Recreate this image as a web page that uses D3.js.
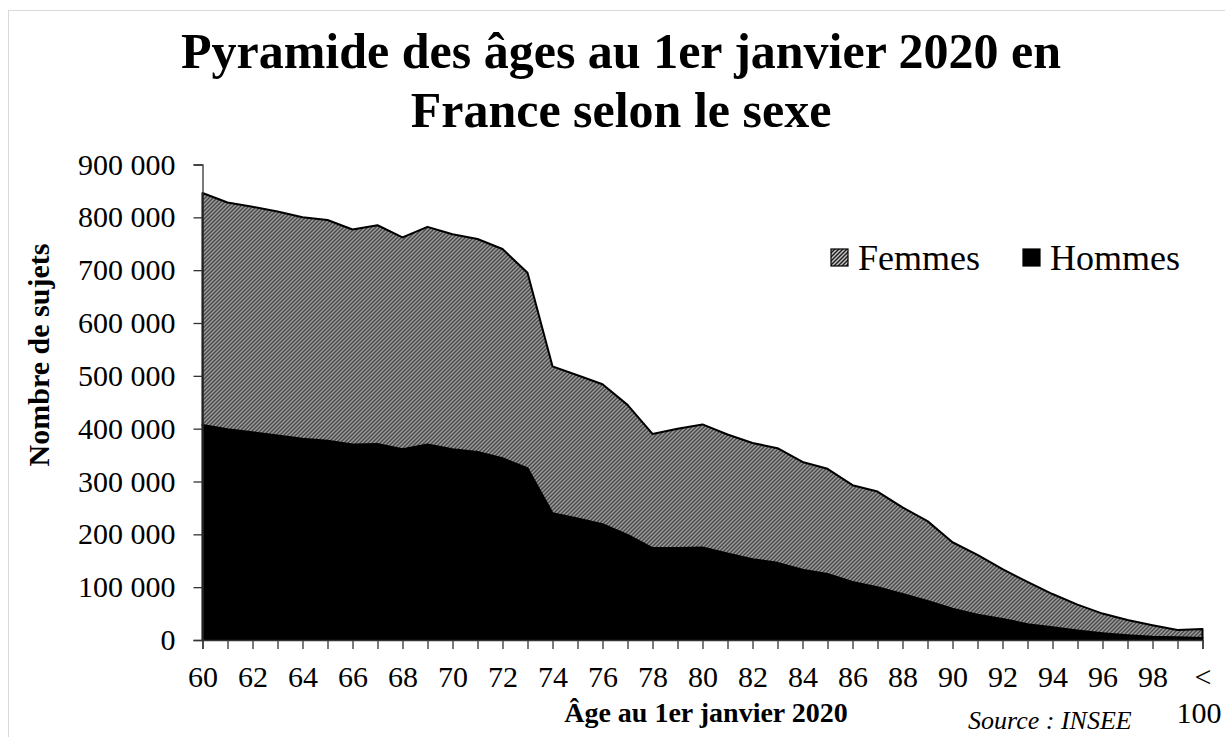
<!DOCTYPE html>
<html>
<head>
<meta charset="utf-8">
<script src="https://cdn.jsdelivr.net/npm/d3@7"></script>
<style>
  body { margin: 0; background: #fff; }
  svg text { font-family: "Liberation Serif", "Times New Roman", serif; fill: #000; }
</style>
</head>
<body>
<script>
// Pyramide des âges : aire empilée hommes + femmes

// 1. Données
var ages = ["60","61","62","63","64","65","66","67","68","69",
            "70","71","72","73","74","75","76","77","78","79",
            "80","81","82","83","84","85","86","87","88","89",
            "90","91","92","93","94","95","96","97","98","99","< 100"];

var hommes = [407000, 399000, 393000, 387000, 381000, 377000, 370000, 371000, 361000, 370000,
              361000, 356000, 344000, 325000, 240000, 230000, 219000, 199000, 174000, 174000,
              175000, 164000, 153000, 146000, 133000, 125000, 110000, 100000,  87000,  74000,
               59000,  48000,  40000,  30000,  24000,  18000,  13000,   9000,   6000,   5000, 4000];

var femmes = [439000, 429000, 427000, 424000, 419000, 418000, 407000, 414000, 401000, 412000,
              407000, 403000, 396000, 370000, 278000, 271000, 265000, 246000, 216000, 226000,
              233000, 225000, 220000, 217000, 204000, 199000, 183000, 181000, 164000, 151000,
              126000, 113000,  94000,  80000,  63000,  49000,  37000,  29000,  22000,  14000, 17000];

var yTicks = [0, 100000, 200000, 300000, 400000, 500000, 600000, 700000, 800000, 900000];
var series = ["Hommes", "Femmes"];

var titleLines = ["Pyramide des âges au 1er janvier 2020 en", "France selon le sexe"];

// 2. Marges / zone
var W = 1225, H = 737;
var margin = {top: 164.5, left: 202.5, right: 22.5, bottom: 97};
var width = W - margin.left - margin.right,
    height = H - margin.top - margin.bottom;
var serif = "'Liberation Serif', 'Times New Roman', serif";

var svg = d3.select("body").append("svg")
    .attr("width", W)
    .attr("height", H)
    .attr("font-family", serif);

// motif hachuré pour les femmes
var pat = svg.append("defs").append("pattern")
    .attr("id", "hatch")
    .attr("patternUnits", "userSpaceOnUse")
    .attr("width", 4).attr("height", 4);
pat.append("rect").attr("width", 4).attr("height", 4).attr("fill", "#c4c4c4");
pat.append("path")
    .attr("d", "M-1,1 l2,-2 M0,4 l4,-4 M3,5 l2,-2")
    .attr("stroke", "#1e1e1e")
    .attr("stroke-width", 1.4);

// cadre gris clair
svg.append("rect")
    .attr("x", 8.5).attr("y", 10.5)
    .attr("width", W).attr("height", H)
    .attr("fill", "none")
    .attr("stroke", "#d9d9d9");

// 3. Échelles
var x = d3.scalePoint().domain(ages).range([0, width]);
var y = d3.scaleLinear().domain([0, 900000]).range([height, 0]);

// 4. Empilement
var rows = ages.map(function(a, i) {
    return {age: a, Hommes: hommes[i], Femmes: femmes[i]};
});
var stacked = d3.stack().keys(series)(rows);

var area = d3.area()
    .x(function(d) { return x(d.data.age); })
    .y0(function(d) { return y(d[0]); })
    .y1(function(d) { return y(d[1]); });

var g = svg.append("g")
    .attr("transform", "translate(" + margin.left + "," + margin.top + ")");

g.selectAll("path.serie")
    .data(stacked)
    .enter()
    .append("path")
    .attr("class", "serie")
    .attr("d", area)
    .attr("fill", function(d) { return d.key == "Femmes" ? "url(#hatch)" : "#000"; })
    .attr("stroke", "#000")
    .attr("stroke-width", 2)
    .attr("stroke-linejoin", "round");

// 5. Axes
var fmt = function(v) { return d3.format(",")(v).replace(/,/g, " "); };

var yAxis = d3.axisLeft(y)
    .tickValues(yTicks)
    .tickFormat(fmt)
    .tickSize(9)
    .tickPadding(18);

var xAxis = d3.axisBottom(x)
    .tickSize(9)
    .tickPadding(17)
    .tickFormat(function(a, i) { return (i % 2 == 0 && i < ages.length - 1) ? a : ""; });

var gy = g.append("g").call(yAxis);
var gx = g.append("g").attr("transform", "translate(0," + height + ")").call(xAxis);

[gx, gy].forEach(function(ax) {
    ax.attr("font-family", serif).attr("font-size", 30);
    ax.select(".domain").attr("stroke", "#333").attr("stroke-width", 1.3);
    ax.selectAll(".tick line").attr("stroke", "#333").attr("stroke-width", 1.3);
    ax.selectAll("text").attr("fill", "#000");
});

// dernière étiquette sur deux lignes
var last = gx.selectAll(".tick text").filter(function(d) { return d == ages[ages.length - 1]; });
last.text(null);
last.append("tspan").attr("x", 0).text("<");
last.append("tspan").attr("x", -4).attr("dy", "1.2em").text("100");

// 6. Titres
svg.append("text")
    .attr("text-anchor", "middle")
    .attr("font-size", 50)
    .attr("font-weight", "bold")
    .selectAll("tspan")
    .data(titleLines)
    .enter()
    .append("tspan")
    .attr("x", 621)
    .attr("y", function(d, i) { return 68 + i * 59; })
    .text(function(d) { return d; });

svg.append("text")
    .attr("x", 706)
    .attr("y", 722)
    .attr("text-anchor", "middle")
    .attr("font-size", 28)
    .attr("font-weight", "bold")
    .text("Âge au 1er janvier 2020");

svg.append("text")
    .attr("transform", "translate(49,355) rotate(-90)")
    .attr("text-anchor", "middle")
    .attr("font-size", 30)
    .attr("font-weight", "bold")
    .text("Nombre de sujets");

svg.append("text")
    .attr("x", 968)
    .attr("y", 729)
    .attr("font-size", 26)
    .attr("font-style", "italic")
    .text("Source : INSEE");

// 7. Légende
var legend = [
    {key: "Femmes", x: 831, fill: "url(#hatch)"},
    {key: "Hommes", x: 1023, fill: "#000"}
];
var lg = svg.selectAll("g.leg")
    .data(legend)
    .enter()
    .append("g")
    .attr("class", "leg")
    .attr("transform", function(d) { return "translate(" + d.x + ",249)"; });
lg.append("rect")
    .attr("width", 17).attr("height", 17)
    .attr("fill", function(d) { return d.fill; })
    .attr("stroke", "#000")
    .attr("stroke-width", 1.2);
lg.append("text")
    .attr("x", 27)
    .attr("y", 21)
    .attr("font-size", 36)
    .text(function(d) { return d.key; });
</script>
</body>
</html>
